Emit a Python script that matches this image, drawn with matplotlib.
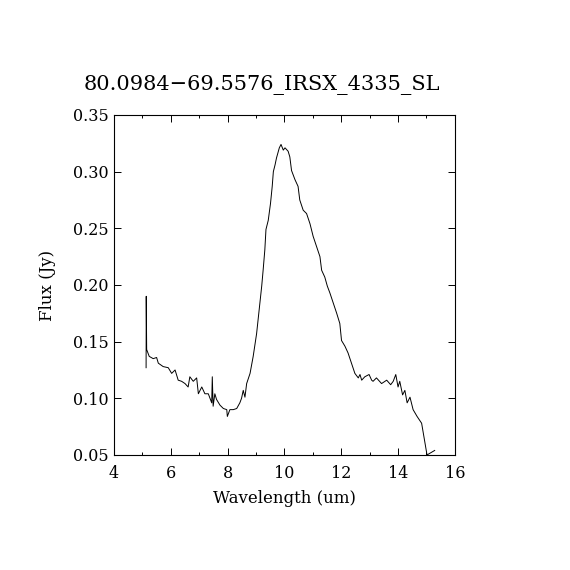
import numpy as np
import matplotlib
matplotlib.use("Agg")
import matplotlib.pyplot as plt
from matplotlib.ticker import MultipleLocator

plt.rcParams['font.family'] = ['DejaVu Serif']

# spectrum
wave = [5.13, 5.135, 5.15, 5.24, 5.38, 5.50, 5.56, 5.73, 5.91, 6.03, 6.15, 6.26,
        6.38, 6.50, 6.61, 6.67, 6.79, 6.91, 6.97, 7.09, 7.20, 7.32, 7.44, 7.46,
        7.49, 7.55, 7.61, 7.73, 7.85, 7.97, 7.99, 8.08, 8.20, 8.32, 8.43, 8.49,
        8.55, 8.61, 8.67, 8.79, 8.90, 9.02, 9.14, 9.20, 9.25, 9.31, 9.35, 9.43,
        9.51, 9.57, 9.61, 9.67, 9.72, 9.82, 9.88, 9.96, 10.02, 10.13, 10.19,
        10.25, 10.37, 10.48, 10.54, 10.66, 10.78, 10.90, 11.01, 11.13, 11.25,
        11.31, 11.42, 11.51, 11.60, 11.72, 11.84, 11.95, 12.01, 12.13, 12.24,
        12.36, 12.48, 12.60, 12.66, 12.72, 12.83, 12.98, 13.07, 13.12, 13.24,
        13.42, 13.60, 13.74, 13.83, 13.92, 14.00, 14.06, 14.16, 14.24, 14.32,
        14.42, 14.53, 14.67, 14.83, 15.02, 15.12, 15.29]
flux = [0.127, 0.190, 0.143, 0.137, 0.135, 0.136, 0.131, 0.128, 0.127, 0.122,
        0.125, 0.116, 0.115, 0.113, 0.110, 0.119, 0.115, 0.118, 0.104, 0.110,
        0.104, 0.104, 0.096, 0.119, 0.093, 0.104, 0.099, 0.094, 0.091, 0.090,
        0.084, 0.090, 0.090, 0.091, 0.096, 0.100, 0.107, 0.101, 0.113, 0.122,
        0.137, 0.157, 0.185, 0.199, 0.213, 0.231, 0.249, 0.257, 0.272, 0.287,
        0.300, 0.306, 0.312, 0.321, 0.324, 0.319, 0.321, 0.318, 0.313, 0.301,
        0.293, 0.287, 0.275, 0.266, 0.263, 0.254, 0.243, 0.234, 0.225, 0.213,
        0.207, 0.199, 0.193, 0.184, 0.175, 0.166, 0.151, 0.146, 0.140, 0.131,
        0.122, 0.118, 0.121, 0.116, 0.119, 0.121, 0.116, 0.115, 0.118, 0.113,
        0.116, 0.112, 0.115, 0.121, 0.110, 0.115, 0.103, 0.107, 0.096, 0.101,
        0.090, 0.084, 0.078, 0.050, 0.0515, 0.054]

title = "80.0984\u221269.5576_IRSX_4335_SL"

fig = plt.figure(figsize=(5.7, 5.7), dpi=100)
ax = fig.add_axes([0.2, 0.2018, 0.598, 0.5965])

ax.plot(wave, flux, color="k", lw=0.7)

ax.set_xlim(4, 16)
ax.set_ylim(0.05, 0.35)
ax.xaxis.set_major_locator(MultipleLocator(2))
ax.xaxis.set_minor_locator(MultipleLocator(1))
ax.yaxis.set_major_locator(MultipleLocator(0.05))
ax.yaxis.set_major_formatter(matplotlib.ticker.FormatStrFormatter("%.2f"))
ax.tick_params(which="both", direction="in", top=True, right=True,
               labelsize=11.5, width=0.7, colors="k")
ax.tick_params(which="major", length=5)
ax.tick_params(which="minor", length=2.5)
ax.tick_params(axis="x", pad=7)
ax.tick_params(axis="y", pad=4)
for s in ax.spines.values():
    s.set_linewidth(0.8)

ax.set_xlabel("Wavelength (um)", fontsize=12, labelpad=6)
ax.set_ylabel("Flux (Jy)", fontsize=12, labelpad=12)
fig.text(0.459, 0.851, title, ha="center", va="center", fontsize=15)

fig.savefig("out.png", dpi=100)
